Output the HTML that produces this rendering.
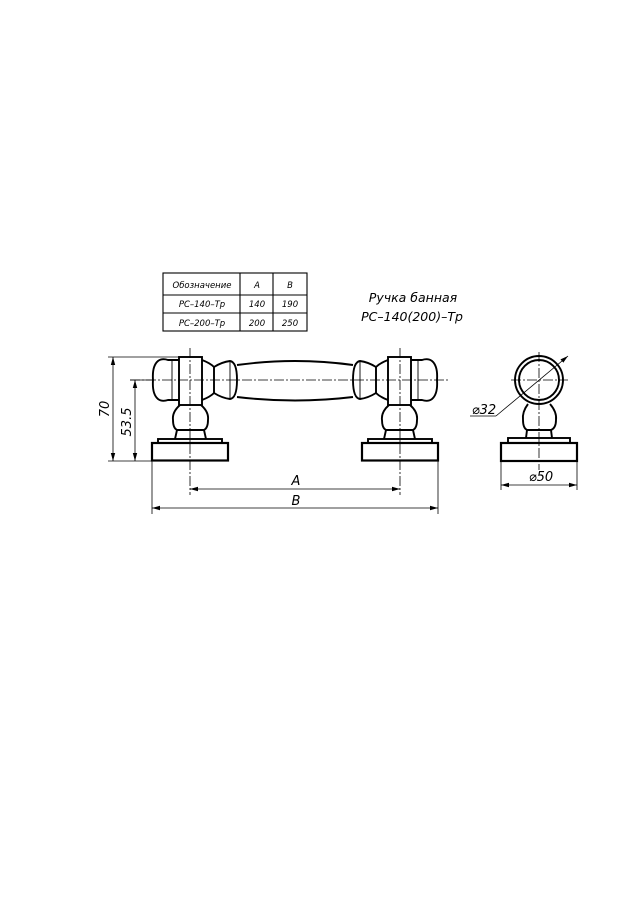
<!DOCTYPE html>
<html><head><meta charset="utf-8"><style>
html,body{margin:0;padding:0;background:#fff}
svg{display:block}
text{font-family:"DejaVu Sans","Liberation Sans",sans-serif;font-style:oblique;fill:#000}
</style></head><body>
<svg width="636" height="900" viewBox="0 0 636 900" xmlns="http://www.w3.org/2000/svg">
<defs>
<marker id="ar" markerWidth="8" markerHeight="6" refX="8" refY="3" orient="auto-start-reverse" markerUnits="userSpaceOnUse">
<path d="M0,0.8 L8,3 L0,5.2" fill="#000"/></marker>
<g id="unit" fill="none" stroke="#000" stroke-width="1.9">
<path d="M179,360 L168,360 Q162,358 158,361 Q152,366 153,380 Q152,394 158,399 Q162,402 168,400 L179,400"/>
<line x1="172" y1="361" x2="172" y2="399" stroke-width="0.9"/>
<rect x="179" y="357" width="23" height="48"/>
<path d="M202,360 Q210,363 214,367 L214,393 Q210,397 202,400"/>
<path d="M214,367 Q222,362 230,361 Q237,362 237,380 Q237,398 230,399 Q222,398 214,393"/>
<line x1="230" y1="362" x2="230" y2="398" stroke-width="0.9"/>
<path d="M180,405 Q172,412 173,420 Q173,428 177,430 L204,430 Q208,428 208,420 Q209,412 201,405"/>
<path d="M177,430 L175,439 M204,430 L206,439"/>
<rect x="158" y="439" width="64" height="4"/>
<rect x="152" y="443" width="76" height="17.5" stroke-width="2.2"/>
</g>
</defs>

<g fill="none" stroke="#000" stroke-width="1.1">
<rect x="163" y="273" width="144" height="58"/>
<line x1="163" y1="295" x2="307" y2="295"/>
<line x1="163" y1="313" x2="307" y2="313"/>
<line x1="240" y1="273" x2="240" y2="331"/>
<line x1="273" y1="273" x2="273" y2="331"/>
</g>
<g font-size="8.5" text-anchor="middle">
<text x="202" y="288">Обозначение</text>
<text x="257" y="288">A</text>
<text x="290" y="288">B</text>
<text x="202" y="307">PC–140–Tp</text>
<text x="257" y="307">140</text>
<text x="290" y="307">190</text>
<text x="202" y="326">PC–200–Tp</text>
<text x="257" y="326">200</text>
<text x="290" y="326">250</text>
</g>
<g font-size="12.5" text-anchor="middle">
<text x="413" y="302">Ручка  банная</text>
<text x="412" y="321">PC–140(200)–Tp</text>
</g>

<use href="#unit"/>
<use href="#unit" transform="translate(590,0) scale(-1,1)"/>
<g fill="none" stroke="#000" stroke-width="1.9">
<path d="M237,365 Q295,357 353,365"/>
<path d="M237,397 Q295,404 353,397"/>
</g>
<g stroke="#000" stroke-width="0.8" stroke-dasharray="10,2,2,2" fill="none">
<line x1="130" y1="380" x2="448" y2="380"/>
<line x1="190" y1="348" x2="190" y2="495"/>
<line x1="400" y1="348" x2="400" y2="495"/>
</g>
<g stroke="#000" stroke-width="0.8" fill="none">
<line x1="108" y1="357" x2="178" y2="357"/>
<line x1="108" y1="461" x2="152" y2="461"/>
<line x1="130" y1="380" x2="152" y2="380"/>
<line x1="113" y1="357" x2="113" y2="461" marker-start="url(#ar)" marker-end="url(#ar)"/>
<line x1="135" y1="380" x2="135" y2="461" marker-start="url(#ar)" marker-end="url(#ar)"/>
<line x1="152" y1="461" x2="152" y2="514"/>
<line x1="438" y1="461" x2="438" y2="514"/>
<line x1="190" y1="489" x2="400" y2="489" marker-start="url(#ar)" marker-end="url(#ar)"/>
<line x1="152" y1="508" x2="438" y2="508" marker-start="url(#ar)" marker-end="url(#ar)"/>
</g>
<g font-size="13" text-anchor="middle">
<text transform="translate(109,409) rotate(-90)">70</text>
<text transform="translate(131,422) rotate(-90)">53.5</text>
<text x="296" y="485">A</text>
<text x="296" y="505">B</text>
</g>

<g fill="none" stroke="#000" stroke-width="1.9">
<circle cx="539" cy="380" r="24"/>
<circle cx="539" cy="380" r="20"/>
<path d="M528,404 Q522,412 523,420 Q523,428 527,430 L551,430 Q556,428 556,420 Q557,412 550,404"/>
<path d="M527,430 L526,438 M551,430 L552,438"/>
<rect x="508" y="438" width="62" height="5"/>
<rect x="501" y="443" width="76" height="18" stroke-width="2.2"/>
</g>
<g stroke="#000" stroke-width="0.8" stroke-dasharray="10,2,2,2" fill="none">
<line x1="539" y1="352" x2="539" y2="470"/>
<line x1="511" y1="380" x2="568" y2="380"/>
</g>
<g stroke="#000" stroke-width="0.8" fill="none">
<line x1="568" y1="356" x2="496" y2="416" marker-start="url(#ar)"/>
<line x1="496" y1="416" x2="470" y2="416"/>
<line x1="501" y1="461" x2="501" y2="490"/>
<line x1="577" y1="461" x2="577" y2="490"/>
<line x1="501" y1="485" x2="577" y2="485" marker-start="url(#ar)" marker-end="url(#ar)"/>
</g>
<g font-size="13" text-anchor="middle">
<text x="484" y="414">⌀32</text>
<text x="541" y="481">⌀50</text>
</g>
</svg>
</body></html>
